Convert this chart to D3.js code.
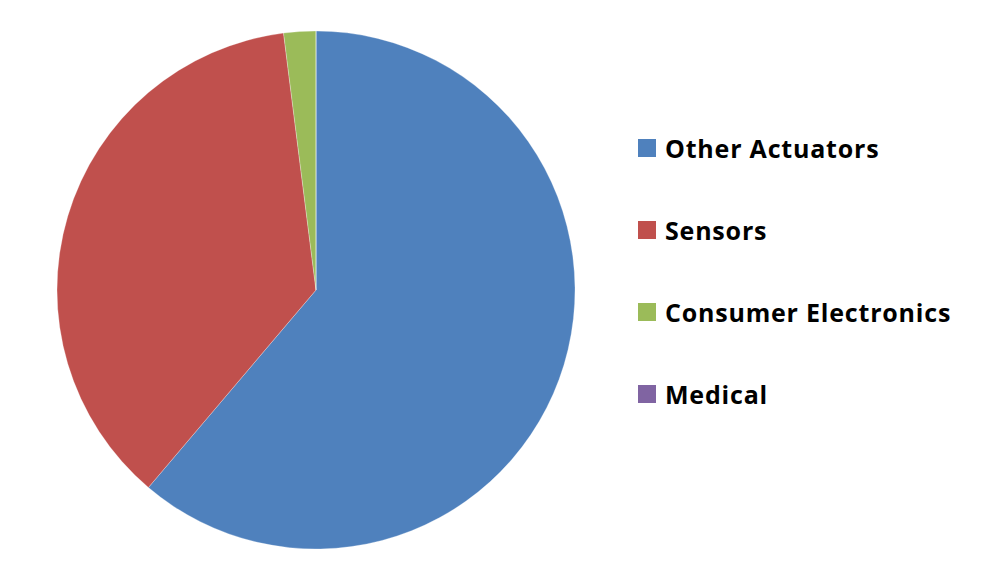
<!DOCTYPE html>
<html>
<head>
<meta charset="utf-8">
<script src="https://cdn.jsdelivr.net/npm/d3@7"></script>
<style>
  body { margin: 0; background: #fff; }
</style>
</head>
<body>
<div id="chart"></div>
<script>
const categories = ['Other Actuators', 'Sensors', 'Consumer Electronics', 'Medical']
const values = [61.2, 36.8, 2.0, 0]
const colors = ['#4F81BD', '#C0504D', '#9BBB59', '#8064A2']

const width = 994
const height = 585
const radius = 259

const svg = d3
  .select('#chart')
  .append('svg')
  .attr('width', width)
  .attr('height', height)

const data = categories.map((c, i) => ({ name: c, value: values[i] }))

const pie = d3.pie().sort(null).value(d => d.value)
const arc = d3.arc().innerRadius(0).outerRadius(radius)

const colorScale = d3.scaleOrdinal().domain(categories).range(colors)

svg
  .append('g')
  .attr('transform', 'translate(316,290)')
  .selectAll('.slice')
  .data(pie(data))
  .enter()
  .append('path')
  .attr('class', 'slice')
  .attr('d', arc)
  .attr('fill', d => colorScale(d.data.name))
  .attr('stroke', 'rgba(255,255,255,0.35)')
  .attr('stroke-width', 0.8)

const yScale = d3.scalePoint().domain(categories).range([148, 394])

const legend = svg
  .selectAll('.legend')
  .data(categories)
  .enter()
  .append('g')
  .attr('class', 'legend')
  .attr('transform', d => `translate(638, ${yScale(d)})`)

legend
  .append('rect')
  .attr('x', 0)
  .attr('y', -9)
  .attr('width', 18)
  .attr('height', 18)
  .attr('fill', d => colorScale(d))

legend
  .append('text')
  .attr('x', 27)
  .attr('y', 1)
  .attr('dy', '0.35em')
  .style('font-family', "'Open Sans', sans-serif")
  .style('font-weight', 'bold')
  .style('font-size', '25px')
  .style('letter-spacing', '0.8px')
  .attr('fill', '#000')
  .text(d => d)
</script>
</body>
</html>
